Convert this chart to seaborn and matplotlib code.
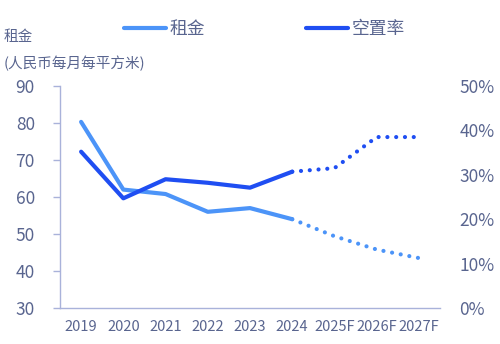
import matplotlib
matplotlib.use("Agg")
import matplotlib.pyplot as plt
import seaborn as sns
import pandas as pd
from matplotlib.lines import Line2D
from matplotlib.ticker import FuncFormatter

years = ['2019', '2020', '2021', '2022', '2023', '2024', '2025F', '2026F', '2027F']
rent = [80.3, 62.0, 60.8, 56.0, 57.0, 54.0, 49.4, 45.8, 43.5]
vacancy = [35.2, 24.7, 29.0, 28.2, 27.1, 30.7, 31.5, 38.5, 38.5]
n_actual = 6  # 2019-2024 actual, rest forecast

sns.set_theme(style="white")
plt.rcParams['font.family'] = ['Noto Sans CJK SC', 'DejaVu Sans']

TXT = '#59658F'
SP = '#A9B2DA'
C_RENT = '#4C94F8'
C_VAC = '#1F4EF2'

df = pd.DataFrame({'x': range(len(years)), 'year': years, 'rent': rent, 'vac': vacancy})
act = df.iloc[:n_actual]
fc = df.iloc[n_actual - 1:]

fig = plt.figure(figsize=(5, 3.44), dpi=100)
ax = fig.add_axes([0.12, 0.1047, 0.76, 0.6453])
lw = 3.0
dot = (0, (0.01, 2.1))

sns.lineplot(data=act, x='x', y='rent', ax=ax, color=C_RENT, linewidth=lw,
             solid_capstyle='round', solid_joinstyle='round')
sns.lineplot(data=fc, x='x', y='rent', ax=ax, color=C_RENT, linewidth=lw,
             linestyle=dot, dash_capstyle='round')

ax2 = ax.twinx()
sns.lineplot(data=act, x='x', y='vac', ax=ax2, color=C_VAC, linewidth=lw,
             solid_capstyle='round', solid_joinstyle='round')
sns.lineplot(data=fc, x='x', y='vac', ax=ax2, color=C_VAC, linewidth=lw,
             linestyle=dot, dash_capstyle='round')

ax.set_xlim(-0.5, len(years) - 0.5)
ax.set_ylim(30, 90)
ax.set_yticks([30, 40, 50, 60, 70, 80, 90])
ax2.set_ylim(0, 50)
ax2.set_yticks([0, 10, 20, 30, 40, 50])
ax2.yaxis.set_major_formatter(FuncFormatter(lambda v, p: f"{v:.0f}%"))
ax.set_xticks(range(len(years)))
ax.set_xticklabels(years)
ax.set_xlabel('')
ax.set_ylabel('')
ax2.set_ylabel('')

for a in (ax, ax2):
    for s in a.spines.values():
        s.set_visible(False)
ax.spines['left'].set_visible(True)
ax.spines['bottom'].set_visible(True)
ax.spines['left'].set_color(SP)
ax.spines['bottom'].set_color(SP)
ax.spines['left'].set_linewidth(1.0)
ax.spines['bottom'].set_linewidth(1.0)

ax.tick_params(axis='y', left=True, length=5, width=1.0, color=SP, pad=13,
               labelsize=12.5, labelcolor=TXT)
ax.tick_params(axis='x', bottom=False, length=0, pad=9, labelsize=10.5, labelcolor=TXT)
ax2.tick_params(axis='y', right=False, length=0, pad=14, labelsize=12.5, labelcolor=TXT)
ax.grid(False)
ax2.grid(False)

fig.text(0.008, 0.892, '租金', fontsize=10.5, color=TXT, va='center', ha='left')
fig.text(0.008, 0.815, '(人民币每月每平方米)', fontsize=10.5, color=TXT, va='center', ha='left')

handles = [Line2D([0], [0], color=C_RENT, lw=lw, solid_capstyle='round'),
           Line2D([0], [0], color=C_VAC, lw=lw, solid_capstyle='round')]
fig.legend(handles, ['租金', '空置率'], loc='center left', bbox_to_anchor=(0.247, 0.915),
           ncol=2, frameon=False, fontsize=12.8, labelcolor=TXT, handlelength=2.4,
           handletextpad=0.2, columnspacing=5.65, borderpad=0, borderaxespad=0)

fig.savefig('out.png', dpi=100)
